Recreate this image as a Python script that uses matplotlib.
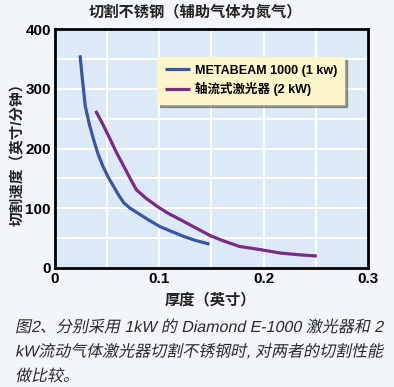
import matplotlib
matplotlib.use("Agg")
import matplotlib.pyplot as plt
from matplotlib.textpath import TextPath
from matplotlib.font_manager import FontProperties
from matplotlib.patches import PathPatch
from matplotlib.transforms import Affine2D, IdentityTransform

plt.rcParams['font.family'] = ['Liberation Sans', 'Noto Sans CJK SC']

# 1 kW METABEAM 1000
thick_1kw = [0.024, 0.026, 0.029, 0.033, 0.037, 0.041, 0.046, 0.051, 0.056, 0.061,
             0.066, 0.072, 0.082, 0.090, 0.101, 0.112, 0.123, 0.135, 0.148]
speed_1kw = [356, 320, 271, 240, 215, 192, 170, 152, 137, 122,
             109, 100, 89, 80, 69, 61, 53, 46, 40]

# 2 kW axial flow laser
thick_2kw = [0.039, 0.046, 0.053, 0.059, 0.066, 0.072, 0.078, 0.087, 0.098, 0.108,
             0.120, 0.135, 0.149, 0.162, 0.177, 0.196, 0.216, 0.235, 0.251]
speed_2kw = [263, 240, 215, 193, 170, 150, 131, 117, 103, 92,
             81, 67, 54, 45, 36, 31, 25, 22, 20]

labels = ['METABEAM 1000 (1 kw)', '轴流式激光器 (2 kW)']
title = '切割不锈钢（辅助气体为氮气）'
xlab = '厚度（英寸）'
ylab = '切割速度（英寸/分钟）'
caption = ['图2、分别采用 1kW 的 Diamond E-1000 激光器和 2',
           'kW流动气体激光器切割不锈钢时, 对两者的切割性能',
           '做比较。']

fig = plt.figure(figsize=(3.94, 3.87), dpi=100, facecolor='#f2f6f9')
ax = fig.add_axes([0.1396, 0.3075, 0.7944, 0.6175])
ax.set_facecolor('#dbeaf6')

ax.plot(thick_1kw, speed_1kw, color='#3b55a6', lw=2.3, label=labels[0], solid_capstyle='butt')
ax.plot(thick_2kw, speed_2kw, color='#7b2a85', lw=2.3, label=labels[1], solid_capstyle='butt')

ax.set_xlim(0, 0.3)
ax.set_ylim(0, 400)
ax.set_xticks([0, 0.1, 0.2, 0.3])
ax.set_xticklabels(['0', '0.1', '0.2', '0.3'])
ax.set_yticks([0, 100, 200, 300, 400])
ax.set_xticks([0.05 * i for i in range(7)], minor=True)
ax.set_yticks([50 * i for i in range(9)], minor=True)
ax.grid(which='both', color='white', lw=1.5)
ax.set_axisbelow(True)
ax.tick_params(which='both', length=0, labelsize=11, pad=3)
for t in ax.get_xticklabels() + ax.get_yticklabels():
    t.set_fontweight('bold')
for s in ax.spines.values():
    s.set_linewidth(2)
    s.set_color('black')

leg = ax.legend(loc='upper left', bbox_to_anchor=(0.326, 0.882), borderaxespad=0,
                frameon=True, fancybox=False, shadow=True, handlelength=2.0,
                handletextpad=0.4, borderpad=0.6, labelspacing=0.45,
                prop={'weight': 'bold', 'size': 9})
leg.get_frame().set_facecolor('#fbf5c9')
leg.get_frame().set_edgecolor('#fbf5c9')
leg.get_frame().set_alpha(1)

fig.text(0.495, 0.969, title, ha='center', va='center', fontsize=11, fontweight='bold', color='#222222')
fig.text(0.533, 0.225, xlab, ha='center', va='center', fontsize=11, fontweight='bold', color='#222222')
fig.text(0.046, 0.61, ylab, ha='center', va='center', rotation=90, fontsize=10.5,
         fontweight='bold', color='#222222')

# caption drawn as slanted paths (the CJK font has no italic face)
fp = FontProperties(family=['Liberation Sans', 'Noto Sans CJK SC'])
H = 387
for i, line in enumerate(caption):
    base = H - (332 + 24.5 * i)
    tp = TextPath((0, 0), line, size=16, prop=fp)
    tr = Affine2D().skew_deg(12, 0).translate(15, base) + IdentityTransform()
    fig.patches.append(PathPatch(tp, transform=tr, facecolor='#2a2a2a', edgecolor='none',
                                 figure=fig))

fig.savefig('out.png', dpi=100, facecolor=fig.get_facecolor())
